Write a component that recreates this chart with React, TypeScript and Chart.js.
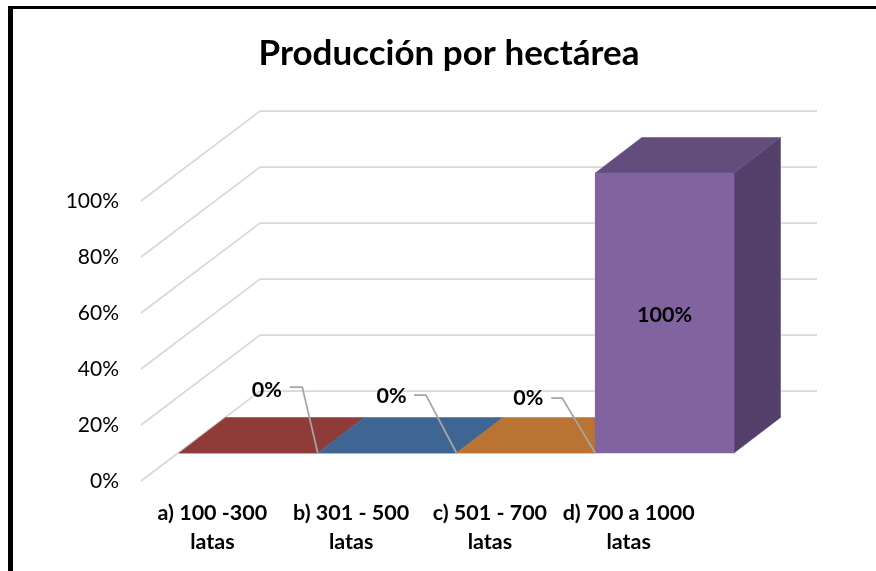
import React, { useEffect, useRef } from "react";
import { Chart, registerables } from "chart.js";

Chart.register(...registerables);

const chartTitle = "Producción por hectárea";
const categories = [
  ["a) 100 -300", "latas"],
  ["b) 301 - 500", "latas"],
  ["c) 501 - 700", "latas"],
  ["d) 700 a 1000", "latas"],
];
const shares = [0, 0, 0, 100];
const frontColors = ["#8E3B3A", "#3F6592", "#B97333", "#80639F"];
const topColors = ["#8E3B3A", "#3F6592", "#B97333", "#624D7C"];
const sideColors = ["#743030", "#335277", "#965E2A", "#533F69"];

// Oblique projection: how far the bars sit behind the front plane, and their own depth.
const WALL_INSET = 2;
const WALL_DX = 119;
const WALL_DY = -90;
const BAR_SHIFT_X = 36;
const BAR_SHIFT_Y = -28;
const BAR_DX = 46.5;
const BAR_DY = -35.5;
const GRID_COLOR = "#D9D9D9";
const LEADER_COLOR = "#A6A6A6";
const FONT = "Lato";

// Callout placement for the zero-height bars, relative to each bar's front-right corner.
const calloutOffsets = [
  { textDx: -66, textDy: -62.5, elbowDx: -15.5, endDx: -28, lineDy: -66 },
  { textDx: -80, textDy: -57, elbowDx: -30.5, endDx: -42.5, lineDy: -58 },
  { textDx: -82, textDy: -55, elbowDx: -33, endDx: -44, lineDy: -55 },
];

const projectedBars = {
  id: "projectedBars",
  beforeDatasetsDraw(chart: any) {
    const { ctx, chartArea, scales } = chart;
    const y = scales.y;
    ctx.save();
    ctx.strokeStyle = GRID_COLOR;
    ctx.lineWidth = 1.75;
    for (const tick of y.ticks) {
      const py = y.getPixelForValue(tick.value);
      const wallLeft = chartArea.left - WALL_INSET;
      ctx.beginPath();
      ctx.moveTo(wallLeft, py);
      ctx.lineTo(wallLeft + WALL_DX, py + WALL_DY);
      ctx.lineTo(chartArea.right + WALL_DX, py + WALL_DY);
      ctx.stroke();
    }
    const polygon = (points: number[][], color: string) => {
      ctx.fillStyle = color;
      ctx.strokeStyle = color;
      ctx.lineWidth = 0.5;
      ctx.beginPath();
      points.forEach(([px, py], i) => (i ? ctx.lineTo(px, py) : ctx.moveTo(px, py)));
      ctx.closePath();
      ctx.fill();
      ctx.stroke();
    };
    chart.getDatasetMeta(0).data.forEach((bar: any, i: number) => {
      const left = bar.x - bar.width / 2 + BAR_SHIFT_X;
      const right = bar.x + bar.width / 2 + BAR_SHIFT_X;
      const top = bar.y + BAR_SHIFT_Y;
      const base = bar.base + BAR_SHIFT_Y;
      if (bar.base > bar.y) {
        polygon(
          [[right, top], [right + BAR_DX, top + BAR_DY], [right + BAR_DX, base + BAR_DY], [right, base]],
          sideColors[i],
        );
      }
      polygon(
        [[left, top], [right, top], [right + BAR_DX, top + BAR_DY], [left + BAR_DX, top + BAR_DY]],
        topColors[i],
      );
    });
    ctx.restore();
    // The library paints the front faces inside this shifted frame.
    ctx.save();
    ctx.translate(BAR_SHIFT_X, BAR_SHIFT_Y);
  },
  afterDatasetsDraw(chart: any) {
    const { ctx } = chart;
    ctx.restore();
    ctx.save();
    ctx.font = `bold 21.5px ${FONT}`;
    ctx.fillStyle = "#000";
    ctx.textBaseline = "middle";
    chart.getDatasetMeta(0).data.forEach((bar: any, i: number) => {
      const value = shares[i];
      const text = `${value}%`;
      const right = bar.x + bar.width / 2 + BAR_SHIFT_X;
      const top = bar.y + BAR_SHIFT_Y;
      const base = bar.base + BAR_SHIFT_Y;
      const callout = calloutOffsets[i];
      if (value > 0 || !callout) {
        ctx.textAlign = "center";
        ctx.fillText(text, bar.x + BAR_SHIFT_X, (top + base) / 2 + 2);
        return;
      }
      ctx.textAlign = "left";
      ctx.fillText(text, right + callout.textDx, top + callout.textDy);
      ctx.strokeStyle = LEADER_COLOR;
      ctx.lineWidth = 1.75;
      ctx.beginPath();
      ctx.moveTo(right + callout.endDx, top + callout.lineDy);
      ctx.lineTo(right + callout.elbowDx, top + callout.lineDy);
      ctx.lineTo(right, top);
      ctx.stroke();
    });
    ctx.restore();
  },
};

export default function App() {
  const canvasRef = useRef<HTMLCanvasElement>(null);

  useEffect(() => {
    const chart = new Chart(canvasRef.current as HTMLCanvasElement, {
      type: "bar",
      data: {
        labels: categories,
        datasets: [
          {
            data: shares,
            backgroundColor: frontColors,
            borderWidth: 0,
            barPercentage: 1,
            categoryPercentage: 1,
            clip: false,
          } as any,
        ],
      },
      options: {
        responsive: false,
        animation: false,
        layout: { padding: { left: 22, right: 0, top: 0, bottom: 0 } },
        plugins: {
          legend: { display: false },
          tooltip: { enabled: false },
          title: {
            display: true,
            text: chartTitle,
            color: "#000",
            font: { family: FONT, size: 35, weight: "bold", lineHeight: 1.2 },
            padding: { top: 33, bottom: 126 },
          },
        },
        scales: {
          x: {
            grid: { display: false },
            border: { display: false },
            ticks: {
              color: "#000",
              autoSkip: false,
              maxRotation: 0,
              minRotation: 0,
              padding: 10,
              font: { family: FONT, size: 21.5, weight: "bold", lineHeight: 1.35 },
            },
            afterFit(scale: any) {
              scale.height = 90;
            },
          },
          y: {
            min: 0,
            max: 100,
            grid: { display: false },
            border: { display: false },
            ticks: {
              color: "#000",
              stepSize: 20,
              padding: 16,
              font: { family: FONT, size: 21 },
              callback: (value: any) => `${value}%`,
            },
            afterFit(scale: any) {
              scale.width = 121;
            },
          },
          // Empty axis reserving the white margin right of the front plane.
          margin: {
            position: "right",
            grid: { display: false },
            border: { display: false },
            ticks: { display: false },
            afterFit(scale: any) {
              scale.width = 178;
            },
          },
        },
      } as any,
      plugins: [projectedBars],
    });
    return () => chart.destroy();
  }, []);

  return (
    <div style={{ position: "fixed", left: 0, top: 0, width: 876, height: 571, background: "#fff", overflow: "hidden" }}>
      <canvas ref={canvasRef} width={876} height={571} style={{ display: "block" }} />
      <div
        style={{
          position: "absolute",
          left: 8,
          top: 6,
          right: 0,
          bottom: 0,
          borderLeft: "5px solid #000",
          borderTop: "3px solid #000",
        }}
      />
    </div>
  );
}
